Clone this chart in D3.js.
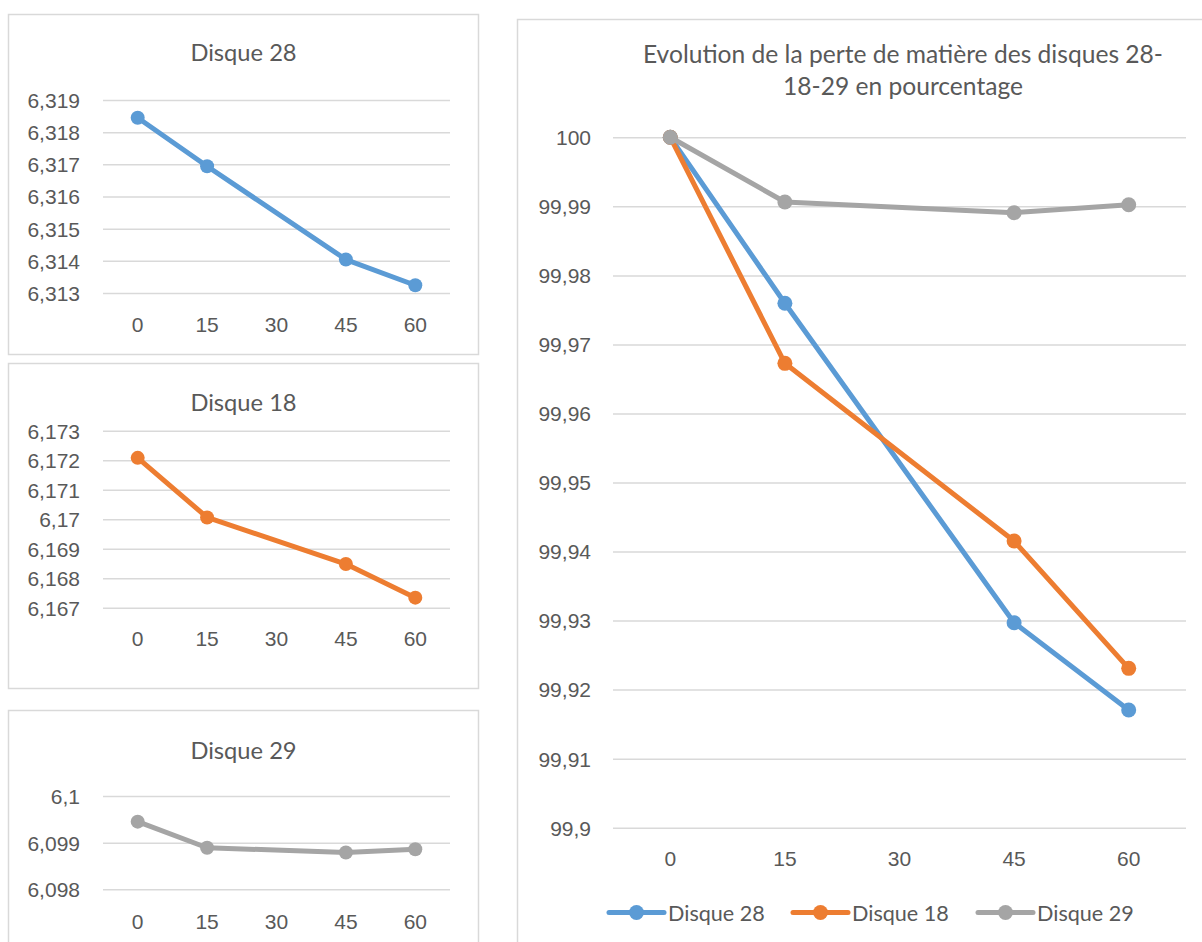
<!DOCTYPE html>
<html>
<head>
<meta charset="utf-8">
<script src="https://cdn.jsdelivr.net/npm/d3@7"></script>
<style>
  html, body { margin: 0; padding: 0; background: #ffffff; }
  svg { display: block; font-family: "Lato", "Liberation Sans", sans-serif; }
</style>
</head>
<body>
<script>
// ---------- DATA ----------
const categories = ["0", "15", "30", "45", "60"];

// masses (g); no measure at 30
const disque28 = [6.31845, 6.31694, null, 6.31404, 6.31324];
const disque18 = [6.17208, 6.17006, null, 6.16848, 6.16734];
const disque29 = [6.09945, 6.09889, null, 6.09879, 6.09886];

// percentages
const pct28 = [100, 99.97596, null, 99.92969, 99.91705];
const pct18 = [100, 99.96726, null, 99.94152, 99.92308];
const pct29 = [100, 99.99063, null, 99.98908, 99.99024];

// tick values
const ticks28 = [6.313, 6.314, 6.315, 6.316, 6.317, 6.318, 6.319];
const ticks18 = [6.167, 6.168, 6.169, 6.17, 6.171, 6.172, 6.173];
const ticks29 = [6.098, 6.099, 6.1];
const ticksPct = [99.9, 99.91, 99.92, 99.93, 99.94, 99.95, 99.96, 99.97, 99.98, 99.99, 100];

const seriesNames = ["Disque 28", "Disque 18", "Disque 29"];
const mainTitle = ["Evolution de la perte de matière des disques 28-", "18-29 en pourcentage"];

// ---------- STYLE ----------
const COLORS = { "Disque 28": "#5B9BD5", "Disque 18": "#ED7D31", "Disque 29": "#A5A5A5" };
const TEXT = "#595959";
const GRID = "#D9D9D9";
const TICK_FS = 21;
const TITLE_FS = 23.7;
const MAIN_TITLE_FS = 24.6;
const LEGEND_FS = 21.6;

const fmt = v => String(+v.toFixed(5)).replace(".", ",");

const svg = d3.select("body").append("svg").attr("width", 1202).attr("height", 942);

function pts(vals) {
  return categories.map((c, i) => ({ c, v: vals[i] })).filter(d => d.v !== null);
}

function drawChart(cfg) {
  const g = svg.append("g");
  // frame
  g.append("rect")
    .attr("x", cfg.box[0] + 0.5).attr("y", cfg.box[1] + 0.5)
    .attr("width", cfg.box[2]).attr("height", cfg.box[3])
    .attr("fill", "#fff").attr("stroke", GRID).attr("stroke-width", 1.5);

  const x = d3.scaleBand().domain(categories).range([cfg.plot[0], cfg.plot[1]]);
  const y = d3.scaleLinear().domain(d3.extent(cfg.ticks)).range([cfg.plot[3], cfg.plot[2]]);

  // gridlines
  const grid = g.append("g").attr("transform", `translate(${cfg.plot[0]},0)`)
    .call(d3.axisLeft(y).tickValues(cfg.ticks).tickSize(-(cfg.plot[1] - cfg.plot[0])).tickFormat(""));
  grid.select(".domain").remove();
  grid.selectAll(".tick line").attr("stroke", GRID).attr("stroke-width", 1.5);

  // y labels
  const ya = g.append("g").attr("transform", `translate(${cfg.labelX},0)`)
    .call(d3.axisLeft(y).tickValues(cfg.ticks).tickSize(0).tickPadding(0).tickFormat(fmt));
  ya.select(".domain").remove();
  ya.selectAll("text").attr("fill", TEXT).attr("font-size", cfg.tickFs)
    .attr("font-family", null).attr("dy", "0.35em");

  // x labels
  const xa = g.append("g").attr("transform", `translate(0,${cfg.plot[3]})`)
    .call(d3.axisBottom(x).tickSize(0).tickPadding(0));
  xa.select(".domain").remove();
  xa.selectAll("text").attr("fill", TEXT).attr("font-size", cfg.tickFs)
    .attr("font-family", null).attr("dy", null).attr("y", cfg.xLabelDy)
    .attr("dominant-baseline", "central");

  // title
  const t = g.append("text").attr("x", cfg.titleX).attr("text-anchor", "middle")
    .attr("fill", TEXT).attr("font-size", cfg.titleFs);
  cfg.title.forEach((line, i) => {
    t.append("tspan").attr("x", cfg.titleX).attr("y", cfg.titleY + i * cfg.titleLH)
      .attr("dominant-baseline", "central").text(line);
  });

  // series
  const line = d3.line().x(d => x(d.c) + x.bandwidth() / 2).y(d => y(d.v));
  cfg.series.forEach(s => {
    const p = pts(s.values);
    g.append("path").datum(p).attr("d", line).attr("fill", "none")
      .attr("stroke", COLORS[s.name]).attr("stroke-width", cfg.lw)
      .attr("stroke-linejoin", "round").attr("stroke-linecap", "round");
    g.selectAll(null).data(p).enter().append("circle")
      .attr("cx", d => x(d.c) + x.bandwidth() / 2).attr("cy", d => y(d.v))
      .attr("r", cfg.r).attr("fill", COLORS[s.name]);
  });
  return g;
}

drawChart({
  box: [8, 14, 470, 340], plot: [103, 450, 100, 293], labelX: 80,
  ticks: ticks28, title: ["Disque 28"], titleX: 243.5, titleY: 52, titleLH: 0,
  tickFs: TICK_FS, titleFs: TITLE_FS, xLabelDy: 31,
  series: [{ name: "Disque 28", values: disque28 }], lw: 5, r: 7
});
drawChart({
  box: [8, 363, 470, 325], plot: [103, 450, 430.7, 607.7], labelX: 80,
  ticks: ticks18, title: ["Disque 18"], titleX: 243.5, titleY: 401.5, titleLH: 0,
  tickFs: TICK_FS, titleFs: TITLE_FS, xLabelDy: 31,
  series: [{ name: "Disque 18", values: disque18 }], lw: 5, r: 7
});
drawChart({
  box: [8, 710, 470, 260], plot: [103, 450, 796, 889.3], labelX: 80,
  ticks: ticks29, title: ["Disque 29"], titleX: 243.5, titleY: 749.5, titleLH: 0,
  tickFs: TICK_FS, titleFs: TITLE_FS, xLabelDy: 32,
  series: [{ name: "Disque 29", values: disque29 }], lw: 5, r: 7
});
drawChart({
  box: [517, 19, 700, 940], plot: [613, 1186, 137.3, 827.7], labelX: 591,
  ticks: ticksPct, title: mainTitle, titleX: 903, titleY: 53.5, titleLH: 31.5,
  tickFs: TICK_FS, titleFs: MAIN_TITLE_FS, xLabelDy: 31,
  series: [
    { name: "Disque 28", values: pct28 },
    { name: "Disque 18", values: pct18 },
    { name: "Disque 29", values: pct29 }
  ], lw: 5, r: 7.5
});

// legend
const legendX = [609, 793, 978];
const legY = 912.5;
const lg = svg.append("g");
seriesNames.forEach((n, i) => {
  const x0 = legendX[i];
  lg.append("line").attr("x1", x0).attr("x2", x0 + 55).attr("y1", legY).attr("y2", legY)
    .attr("stroke", COLORS[n]).attr("stroke-width", 5).attr("stroke-linecap", "round");
  lg.append("circle").attr("cx", x0 + 27.5).attr("cy", legY).attr("r", 7.5).attr("fill", COLORS[n]);
  lg.append("text").attr("x", x0 + 59).attr("y", legY).attr("dominant-baseline", "central")
    .attr("fill", TEXT).attr("font-size", LEGEND_FS).text(n);
});
</script>
</body>
</html>
